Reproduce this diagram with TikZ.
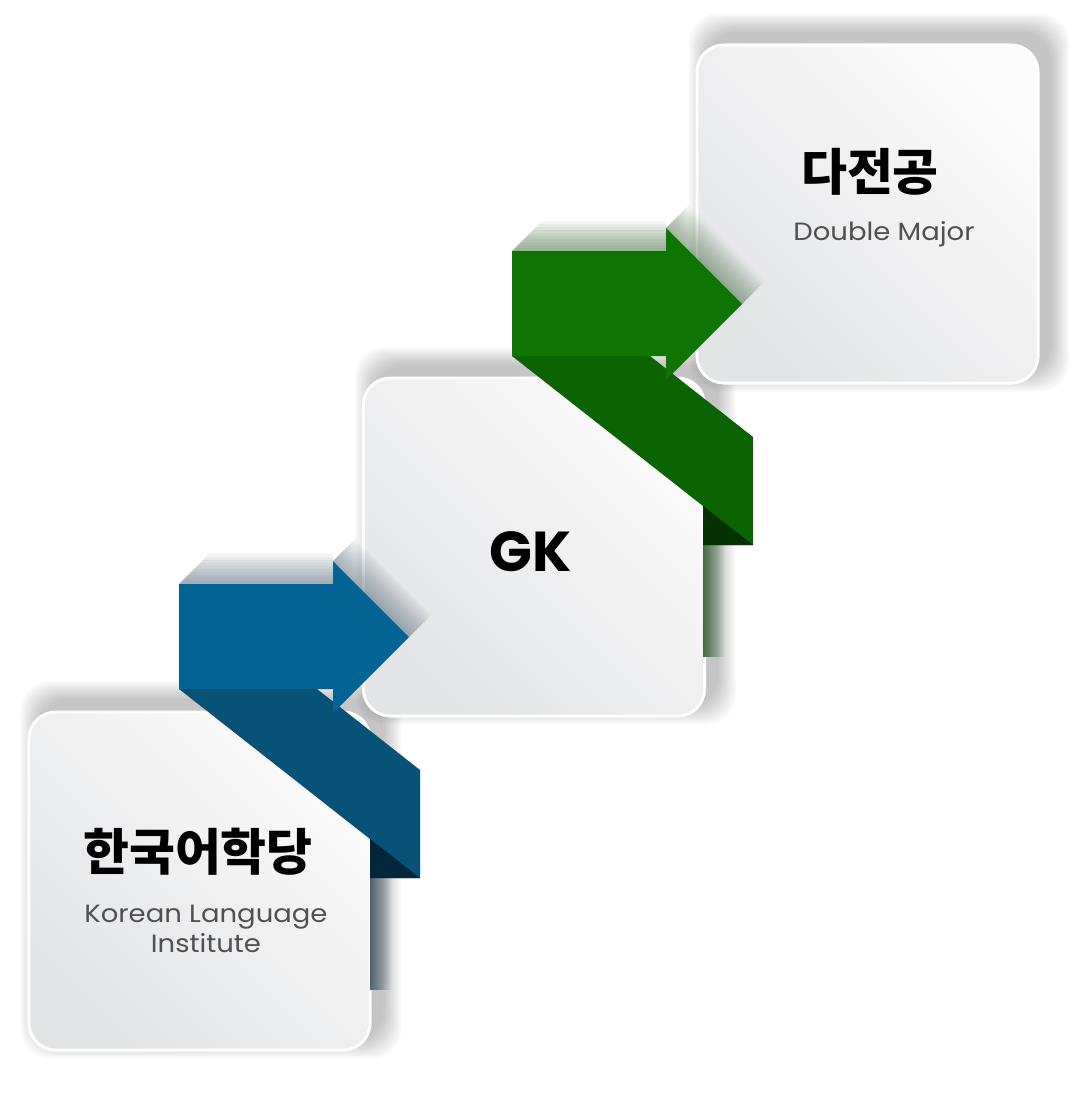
\documentclass[tikz,border=0pt]{standalone}
\usepackage{fontspec}
\setmainfont{Poppins}
\newfontfamily\subfont{Poppins}[FakeStretch=1.1]
\newfontfamily\krfont{Noto Sans CJK KR}
\usetikzlibrary{positioning,calc,fadings,backgrounds}

\definecolor{cardlo}{HTML}{E3E4E6}
\definecolor{cardhi}{HTML}{FBFBFB}
\definecolor{subgray}{HTML}{505050}
\definecolor{bluebody}{HTML}{036394}
\definecolor{blueband}{HTML}{075277}
\definecolor{bluedark}{HTML}{02263A}
\definecolor{blueshade}{HTML}{4E6272}
\definecolor{greenbody}{HTML}{0E7503}
\definecolor{greenband}{HTML}{0B6302}
\definecolor{greendark}{HTML}{043301}
\definecolor{greenshade}{HTML}{3F6A3F}

\begin{document}
\begin{tikzpicture}[
    x=0.01cm, y=-0.01cm,
    card/.style={rectangle, rounded corners=0.27cm, minimum width=3.41cm,
        minimum height=3.38cm, inner sep=0pt, draw=white, line width=0.8pt,
        top color=cardhi, bottom color=cardlo, shading angle=-45},
    cardshadow/.style={black, opacity=0.024, rounded corners=0.3cm},
    title/.style={font=\krfont\bfseries\fontsize{14.2}{17}\selectfont},
    gktext/.style={font=\bfseries\fontsize{16}{19}\selectfont},
    subtitle/.style={font=\subfont\fontsize{7.1}{8.5}\selectfont, text=subgray, align=center}
]
\useasboundingbox (0,0) rectangle (1079,1103);

% Karten
\node[card] (kli) at (199.5,881) {};
\node[card] (gk) at (534,547) {};
\node[card] (dm) at (867.5,214) {};

% weiche Kartenschatten
\begin{scope}[on background layer]
  \fill[white] (0,0) rectangle (1079,1103);
  \foreach \n in {kli,gk,dm}
    \foreach \k in {1,...,10}
      \fill[cardshadow] ($(\n.south west)+(13-2*\k,-13+2*\k)$) rectangle ($(\n.north east)+(10+2*\k,-10-2*\k)$);
\end{scope}

% Beschriftungen
\node[title] (kliT) at ([xshift=-0.015cm, yshift=0.29cm]kli.center) {한국어학당};
\node[subtitle] (kliS) at ([xshift=0.065cm, yshift=-0.48cm]kli.center) {Korean Language\\Institute};
\node[gktext] (gkT) at ([xshift=-0.03cm, yshift=-0.05cm]gk.center) {GK};
\node[title] (dmT) at ([xshift=0.025cm, yshift=0.42cm]dm.center) {다전공};
\node[subtitle] (dmS) at ([xshift=0.165cm, yshift=-0.2cm]dm.center) {Double Major};

% Baender: blau unten, gruen oben
\foreach \dx/\dy/\cbody/\cband/\cdark/\cshade in {0/0/bluebody/blueband/bluedark/blueshade,
    333/-333/greenbody/greenband/greendark/greenshade} {
  \begin{scope}[shift={(\dx,\dy)}]
    % Schatten
    \foreach \a in {3,6,...,30}
      \fill[\cshade, opacity=0.065] (179,584) -- (179+\a,584-\a) -- (333,584-\a) -- (333,584) -- cycle;
    \foreach \a in {2,4,...,22}
      \fill[\cshade, opacity=0.055] (333,561) -- (333+\a,561-\a) -- (409+\a,637-\a) -- (409,637) -- cycle;
    \fill[\cshade, path fading=east] (370,878) rectangle (392,990);
    % Band
    \fill[\cband] (179,689) -- (317,689) -- (420,770) -- (420,878) -- (370,878) -- (370,839) -- cycle;
    \fill[\cdark] (370,839) -- (420,878) -- (370,878) -- cycle;
    % Pfeil
    \fill[\cbody] (179,584) -- (333,584) -- (333,561) -- (409,637) -- (333,713) -- (333,689) -- (179,689) -- cycle;
  \end{scope}
}

\end{tikzpicture}
\end{document}
